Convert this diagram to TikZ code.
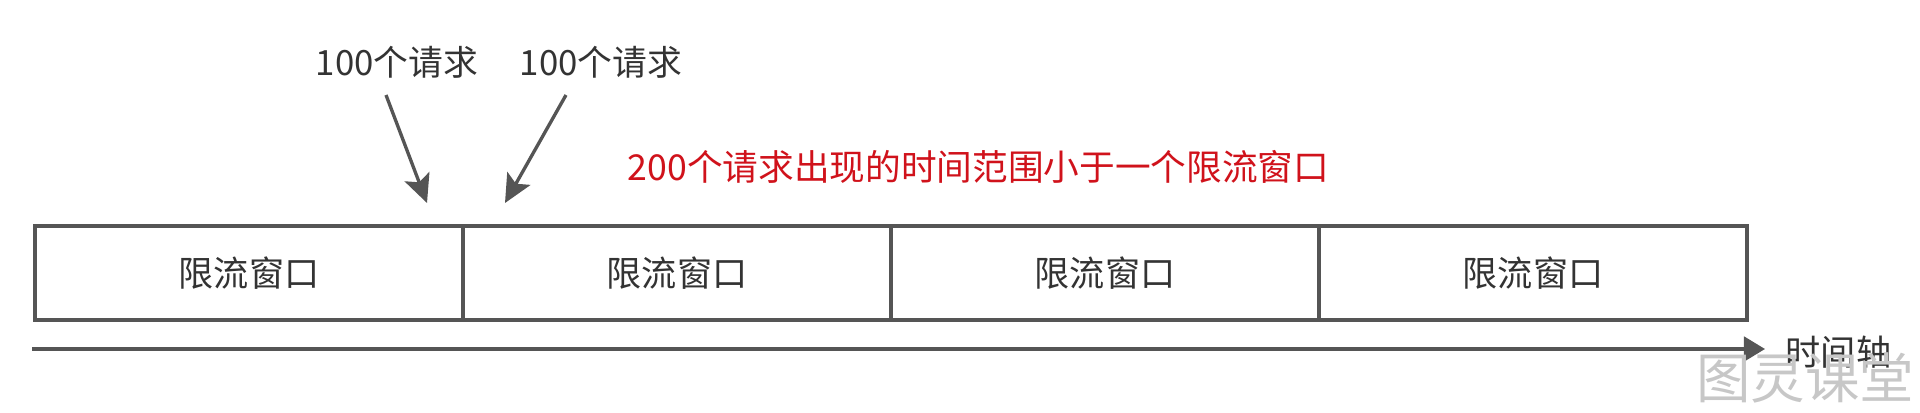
\documentclass[tikz,border=0pt]{standalone}
\usepackage{xcolor}
\usepackage{fontspec}
\setmainfont{Noto Sans CJK SC}
\usepackage{tikz}
\usetikzlibrary{arrows.meta}
\usetikzlibrary{positioning,calc}

\definecolor{linegray}{RGB}{85,85,85}
\definecolor{textgray}{RGB}{51,51,51}
\definecolor{notered}{RGB}{208,18,27}

\begin{document}
\begin{tikzpicture}[
    window/.style={draw=linegray, line width=0.95pt, minimum width=4.28cm, minimum height=0.94cm,
                   inner sep=0pt, outer sep=0pt, text=textgray, font=\fontsize{10pt}{12pt}\selectfont},
    req/.style={text=textgray, font=\fontsize{9.9pt}{11pt}\selectfont},
    hit/.style={draw=linegray, line width=0.95pt, -{Stealth[length=8pt,width=7.5pt,inset=1.7pt]}}
  ]
              \useasboundingbox (0,0) rectangle (19.2,4.12);

              \node[window] (w1) at (2.49, 1.39) {限流窗口};
              \node[window, right=0pt of w1] (w2) {限流窗口};
              \node[window, right=0pt of w2] (w3) {限流窗口};
              \node[window, right=0pt of w3] (w4) {限流窗口};

              \node[req] (req1) at (3.97, 3.50) {100个请求};
              \node[req] (req2) at (6.01, 3.50) {100个请求};

              \coordinate (tip1) at ($(w1.north east)+(-0.36,0.23)$);
              \coordinate (tip2) at ($(w1.north east)+(0.42,0.23)$);
              \draw[hit] ($(req1)+(-0.11,-0.33)$) -- (tip1);
              \draw[hit] ($(req2)+(-0.35,-0.33)$) -- (tip2);

              \node[text=notered, font=\fontsize{10.15pt}{12pt}\selectfont] (note) at (9.785, 2.45)
                   {200个请求出现的时间范围小于一个限流窗口};

              % time axis
              \coordinate (t0) at (0.32, 0.63);
              \node[anchor=west, text=textgray, font=\fontsize{10pt}{12pt}\selectfont, inner sep=0pt] (axis) at (17.85, 0.60) {时间轴};
              \draw[draw=linegray, line width=0.95pt, -{Triangle[length=6pt,width=7pt]}] (t0) -- (17.65, 0.63);

              \node[text=black!22, font=\fontsize{15.5pt}{16pt}\selectfont] (mark) at (18.05, 0.345) {图灵课堂};
            \end{tikzpicture}
\end{document}
